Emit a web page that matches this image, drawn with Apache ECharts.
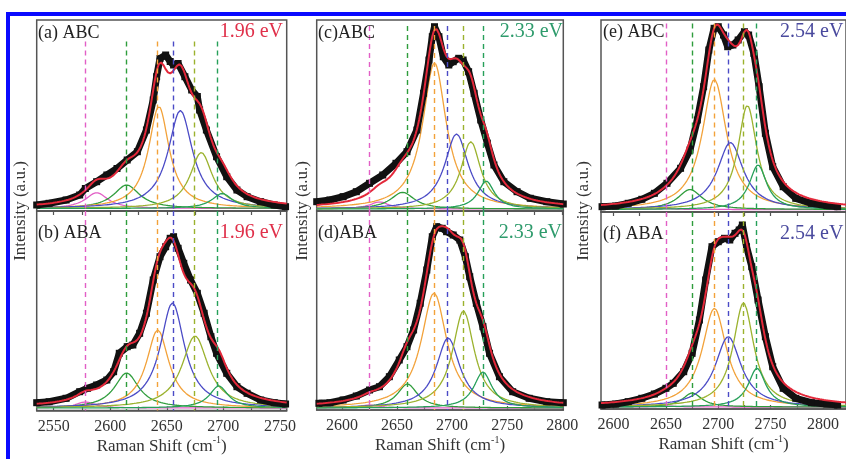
<!DOCTYPE html>
<html>
<head>
<meta charset="utf-8">
<script src="https://cdn.jsdelivr.net/npm/echarts@6/dist/echarts.min.js"></script>
<style>
  html, body { margin: 0; padding: 0; background: #fff; }
  #chart { width: 846px; height: 459px; }
</style>
</head>
<body>
<div id="chart"></div>
<script>
// ---- Measured 2D band: Raman shift (cm^-1) and intensity (a.u.) ----
const shiftA  = [2535, 2546, 2561, 2573, 2578, 2588, 2597, 2606, 2615, 2624, 2632, 2638, 2641, 2644, 2649, 2653, 2656, 2660, 2666, 2672, 2677, 2679, 2685, 2694, 2703, 2712, 2721, 2733, 2745, 2755];
const countsA = [3.5, 5.2, 8.5, 13.5, 20, 26.8, 33.5, 40, 48.5, 56.8, 78.5, 108.5, 131.8, 150, 153.5, 147, 143.5, 145, 131.8, 118.5, 112, 98.5, 78.5, 51.8, 31.8, 18.5, 11.8, 6.8, 3.5, 1.8];

const shiftB  = [2535, 2546, 2561, 2573, 2580, 2588, 2597, 2603, 2608, 2615, 2620, 2626, 2632, 2638, 2644, 2649, 2653, 2656, 2660, 2665, 2671, 2677, 2683, 2689, 2694, 2703, 2712, 2721, 2733, 2745, 2755];
const countsB = [5.3, 6.3, 9.7, 16.3, 19.7, 23, 28, 36.3, 54.7, 61.3, 63, 74.7, 94.7, 128, 151.3, 161.3, 169.7, 171.3, 159.7, 144.7, 128, 114.7, 94.7, 71.3, 54.7, 34.7, 21.3, 14.7, 8, 5.3, 4];

const shiftC  = [2577, 2589, 2601, 2613, 2625, 2637, 2649, 2659, 2668, 2674, 2679, 2682, 2684, 2688, 2692, 2697, 2701, 2706, 2710, 2715, 2720, 2726, 2732, 2738, 2747, 2759, 2771, 2786, 2801];
const countsC = [7.3, 9, 12.3, 17.3, 25.7, 34, 45.7, 57.3, 79, 115.7, 149, 172.3, 182.3, 172.3, 152.3, 144, 147.3, 150.7, 149, 137.3, 115.7, 89, 66, 44, 27.3, 17.3, 10.7, 7.3, 5];

const shiftD  = [2579, 2589, 2601, 2613, 2625, 2634, 2643, 2652, 2659, 2665, 2671, 2677, 2682, 2686, 2691, 2695, 2701, 2707, 2712, 2716, 2722, 2728, 2734, 2743, 2755, 2770, 2786, 2801];
const countsD = [4.7, 5.3, 8, 12, 18, 21.3, 31.3, 48, 61.3, 78, 104.7, 138, 171.3, 181.3, 179.7, 176.3, 173, 168, 151.3, 131.3, 104.7, 81.3, 54.7, 31.3, 16.3, 9.7, 6.3, 5.3];

const shiftE  = [2589, 2602, 2614, 2627, 2639, 2651, 2664, 2673, 2680, 2686, 2691, 2696, 2700, 2705, 2709, 2714, 2719, 2725, 2729, 2734, 2739, 2745, 2752, 2762, 2774, 2789, 2804, 2814];
const countsE = [2.8, 3.5, 6.2, 10.2, 16.2, 26.2, 41.2, 59.5, 89.5, 122.8, 159.5, 181.2, 182.8, 174.5, 162.8, 164.5, 169.5, 177.8, 174.5, 156.2, 122.8, 76.2, 42.8, 22.8, 11.2, 6.2, 3.8, 2.8];

const shiftF  = [2589, 2602, 2614, 2627, 2639, 2650, 2657, 2667, 2675, 2682, 2688, 2694, 2700, 2706, 2711, 2716, 2720, 2723, 2727, 2732, 2738, 2745, 2752, 2762, 2774, 2789, 2804, 2814];
const countsF = [2, 3, 5.3, 8.7, 13, 18.7, 23.7, 35.3, 53.7, 87, 127, 160.3, 165.3, 168.7, 167, 173.7, 177, 182, 160.3, 140.3, 107, 70.3, 40.3, 18.7, 8.7, 4.3, 3, 2];

// ---- Lorentzian fit components: centre (cm^-1), height (a.u.), FWHM (cm^-1) ----
const centreA = [2588, 2614.5, 2643, 2662, 2680.5, 2699];
const heightA = [15.8, 23.5, 102, 98, 56, 15];
const fwhmA   = [24, 28, 22, 26, 24, 22];

const centreB = [2578, 2614.5, 2642, 2655, 2675, 2696];
const heightB = [6, 35, 78, 105, 72, 22];
const fwhmB   = [20, 26, 24, 26, 28, 20];

const centreC = [2634, 2655, 2684, 2704, 2717, 2731];
const heightC = [7, 16.7, 146, 75, 67.3, 28];
const fwhmC   = [22, 26, 26, 26, 22, 18];

const centreD = [2625, 2659.4, 2683.6, 2696.4, 2710.3, 2728];
const heightD = [3, 24, 115, 70, 97, 36];
const fwhmD   = [20, 22, 28, 26, 24, 20];

const centreE = [2650, 2673, 2696.3, 2711.6, 2727.8, 2738];
const heightE = [1, 20, 130, 67, 104, 44.5];
const fwhmE   = [20, 28, 28, 30, 22, 20];

const centreF = [2650, 2675.2, 2696.3, 2709.5, 2724.1, 2737];
const heightF = [1, 14, 98.7, 70.3, 104, 38.7];
const fwhmF   = [20, 22, 28, 30, 24, 20];

// ---- Dashed guide positions (cm^-1) ----
const guide196 = [2578, 2614.5, 2641.6, 2655.8, 2674.5, 2695];
const guide233 = [2625, 2659, 2683.6, 2696, 2710.3, 2728];
const guide254 = [2650, 2675, 2696, 2709.5, 2723.5, 2736.4];

// ---- Axis ticks and tick labels ----
const ticks196  = [2550, 2575, 2600, 2625, 2650, 2675, 2700, 2725, 2750];
const labels196 = [2550, 2600, 2650, 2700, 2750];
const ticks233  = [2600, 2625, 2650, 2675, 2700, 2725, 2750, 2775, 2800];
const labels233 = [2600, 2650, 2700, 2750, 2800];
const ticks254  = [2600, 2625, 2650, 2675, 2700, 2725, 2750, 2775, 2800];
const labels254 = [2600, 2650, 2700, 2750, 2800];

const componentColors = ['#e25fc6', '#2f9d3c', '#f2a23a', '#4b4bc6', '#9bb22e', '#27a05a'];
const FONT = 'Liberation Serif';

const panels = [
  { tag: '(a) ABC', energy: '1.96 eV', ecol: '#e0304a', shift: shiftA, counts: countsA, centre: centreA, height: heightA, fwhm: fwhmA, guide: guide196,
    left: 36.7, width: 250, top: 20, h: 191, xmin: 2535, xmax: 2756, ymin: -2.5, ymax: 188.5, lower: false, guideTop: 167, ticks: ticks196, labels: labels196,
    tagPos: [38, 24], ePos: [283, 22], eAlign: 'right' },
  { tag: '(b) ABA', energy: '1.96 eV', ecol: '#e0304a', shift: shiftB, counts: countsB, centre: centreB, height: heightB, fwhm: fwhmB, guide: guide196,
    left: 36.7, width: 250, top: 211, h: 199.5, xmin: 2535, xmax: 2756, ymin: -2.5, ymax: 197, lower: true, guideTop: 197, ticks: ticks196, labels: labels196,
    tagPos: [38, 224], ePos: [283, 223], eAlign: 'right' },
  { tag: '(c)ABC', energy: '2.33 eV', ecol: '#2e9b6c', shift: shiftC, counts: countsC, centre: centreC, height: heightC, fwhm: fwhmC, guide: guide233,
    left: 316.7, width: 246.6, top: 20, h: 191, xmin: 2577, xmax: 2801, ymin: -2, ymax: 189, lower: false, guideTop: 183, ticks: ticks233, labels: labels233,
    tagPos: [318, 24], ePos: [563, 22], eAlign: 'right' },
  { tag: '(d)ABA', energy: '2.33 eV', ecol: '#2e9b6c', shift: shiftD, counts: countsD, centre: centreD, height: heightD, fwhm: fwhmD, guide: guide233,
    left: 316.7, width: 246.6, top: 211, h: 199, xmin: 2577, xmax: 2801, ymin: -2, ymax: 197, lower: true, guideTop: 197, ticks: ticks233, labels: labels233,
    tagPos: [318, 224], ePos: [562, 223], eAlign: 'right' },
  { tag: '(e) ABC', energy: '2.54 eV', ecol: '#4a4a9e', shift: shiftE, counts: countsE, centre: centreE, height: heightE, fwhm: fwhmE, guide: guide254,
    left: 601, width: 255, top: 20, h: 192, xmin: 2588, xmax: 2822, ymin: -2.5, ymax: 189.5, lower: false, guideTop: 186, ticks: ticks254, labels: labels254,
    tagPos: [603, 23], ePos: [780, 22], eAlign: 'left' },
  { tag: '(f) ABA', energy: '2.54 eV', ecol: '#4a4a9e', shift: shiftF, counts: countsF, centre: centreF, height: heightF, fwhm: fwhmF, guide: guide254,
    left: 601, width: 255, top: 212, h: 197, xmin: 2588, xmax: 2822, ymin: -2, ymax: 195, lower: true, guideTop: 195, ticks: ticks254, labels: labels254,
    tagPos: [603, 225], ePos: [780, 224], eAlign: 'left' }
];

// Lorentzian line shape
function lorentz(x, c, hgt, w) {
  const g = w / 2;
  return hgt * g * g / ((x - c) * (x - c) + g * g);
}

const grids = [], xAxes = [], yAxes = [], series = [], graphics = [];

panels.forEach((p, i) => {
  grids.push({ left: p.left, top: p.top, width: p.width, height: p.h, show: true,
               borderColor: '#555', borderWidth: 1.5, backgroundColor: 'transparent' });
  xAxes.push({
    type: 'value', gridIndex: i, min: p.xmin, max: p.xmax,
    axisLine: { show: true, onZero: false, lineStyle: { color: '#555', width: 1.5 } },
    axisTick: { show: true, inside: p.lower, length: 4, customValues: p.ticks, lineStyle: { color: '#555', width: 1.2 } },
    axisLabel: { show: p.lower, customValues: p.labels, formatter: v => String(v),
                 fontFamily: FONT, fontSize: 16, color: '#333', margin: 8 },
    splitLine: { show: false },
    name: p.lower ? '{n|Raman Shift (cm}{sup|-1}{n|)}' : '',
    nameLocation: 'middle', nameGap: 24,
    nameTextStyle: {
      fontFamily: FONT, fontSize: 17, color: '#333',
      rich: {
        n: { fontFamily: FONT, fontSize: 17, color: '#333', lineHeight: 22 },
        sup: { fontFamily: FONT, fontSize: 10, color: '#333', lineHeight: 10, verticalAlign: 'top' }
      }
    }
  });
  yAxes.push({ type: 'value', gridIndex: i, min: p.ymin, max: p.ymax, show: false });

  // fit components and their sum
  const xs = [];
  for (let x = p.xmin; x <= p.xmax; x += 1) xs.push(x);
  const total = xs.map(() => 0);
  p.centre.forEach((c, k) => {
    const pts = xs.map((x, j) => {
      const v = lorentz(x, c, p.height[k], p.fwhm[k]);
      total[j] += v;
      return [x, v];
    });
    series.push({
      type: 'line', xAxisIndex: i, yAxisIndex: i, data: pts, showSymbol: false, symbol: 'none',
      lineStyle: { color: componentColors[k], width: 1.3 }, z: 2, silent: true,
      markLine: {
        silent: true, symbol: ['none', 'none'], label: { show: false },
        lineStyle: { color: componentColors[k], type: [5, 4], width: 1.4 },
        data: [[{ coord: [p.guide[k], p.guideTop] }, { coord: [p.guide[k], p.ymin] }]]
      }
    });
  });

  // measured data
  series.push({
    type: 'line', xAxisIndex: i, yAxisIndex: i,
    data: p.shift.map((x, j) => [x, p.counts[j]]),
    symbol: 'rect', symbolSize: 7, showSymbol: true,
    itemStyle: { color: '#111' }, lineStyle: { color: '#111', width: 7 }, z: 3, silent: true
  });

  // cumulative fit
  series.push({
    type: 'line', xAxisIndex: i, yAxisIndex: i,
    data: xs.map((x, j) => [x, total[j]]), showSymbol: false, symbol: 'none',
    lineStyle: { color: '#e3283a', width: 2 }, z: 4, silent: true
  });

  graphics.push({ type: 'text', left: p.tagPos[0], top: p.tagPos[1], z: 10,
    style: { text: p.tag, font: '18px "Liberation Serif"', fill: '#222' } });
  graphics.push({ type: 'text', z: 10,
    x: p.ePos[0], y: p.ePos[1],
    style: { text: p.energy, font: '20px "Liberation Serif"', fill: p.ecol, textAlign: p.eAlign, textVerticalAlign: 'top' } });
});

// vertical axis titles
[21, 303, 584].forEach(x => {
  graphics.push({ type: 'text', x: x, y: 211, rotation: Math.PI / 2, z: 10,
    style: { text: 'Intensity (a.u.)', font: '17px "Liberation Serif"', fill: '#333', textAlign: 'center', textVerticalAlign: 'middle' } });
});

// blue frame
graphics.push({ type: 'rect', shape: { x: 6, y: 12, width: 840, height: 4 }, style: { fill: '#0a0aff' }, z: 20 });
graphics.push({ type: 'rect', shape: { x: 6, y: 12, width: 4, height: 447 }, style: { fill: '#0a0aff' }, z: 20 });

const chart = echarts.init(document.getElementById('chart'), null, { renderer: 'canvas' });
chart.setOption({
  animation: false,
  backgroundColor: '#fff',
  grid: grids, xAxis: xAxes, yAxis: yAxes, series: series, graphic: graphics
});
</script>
</body>
</html>
